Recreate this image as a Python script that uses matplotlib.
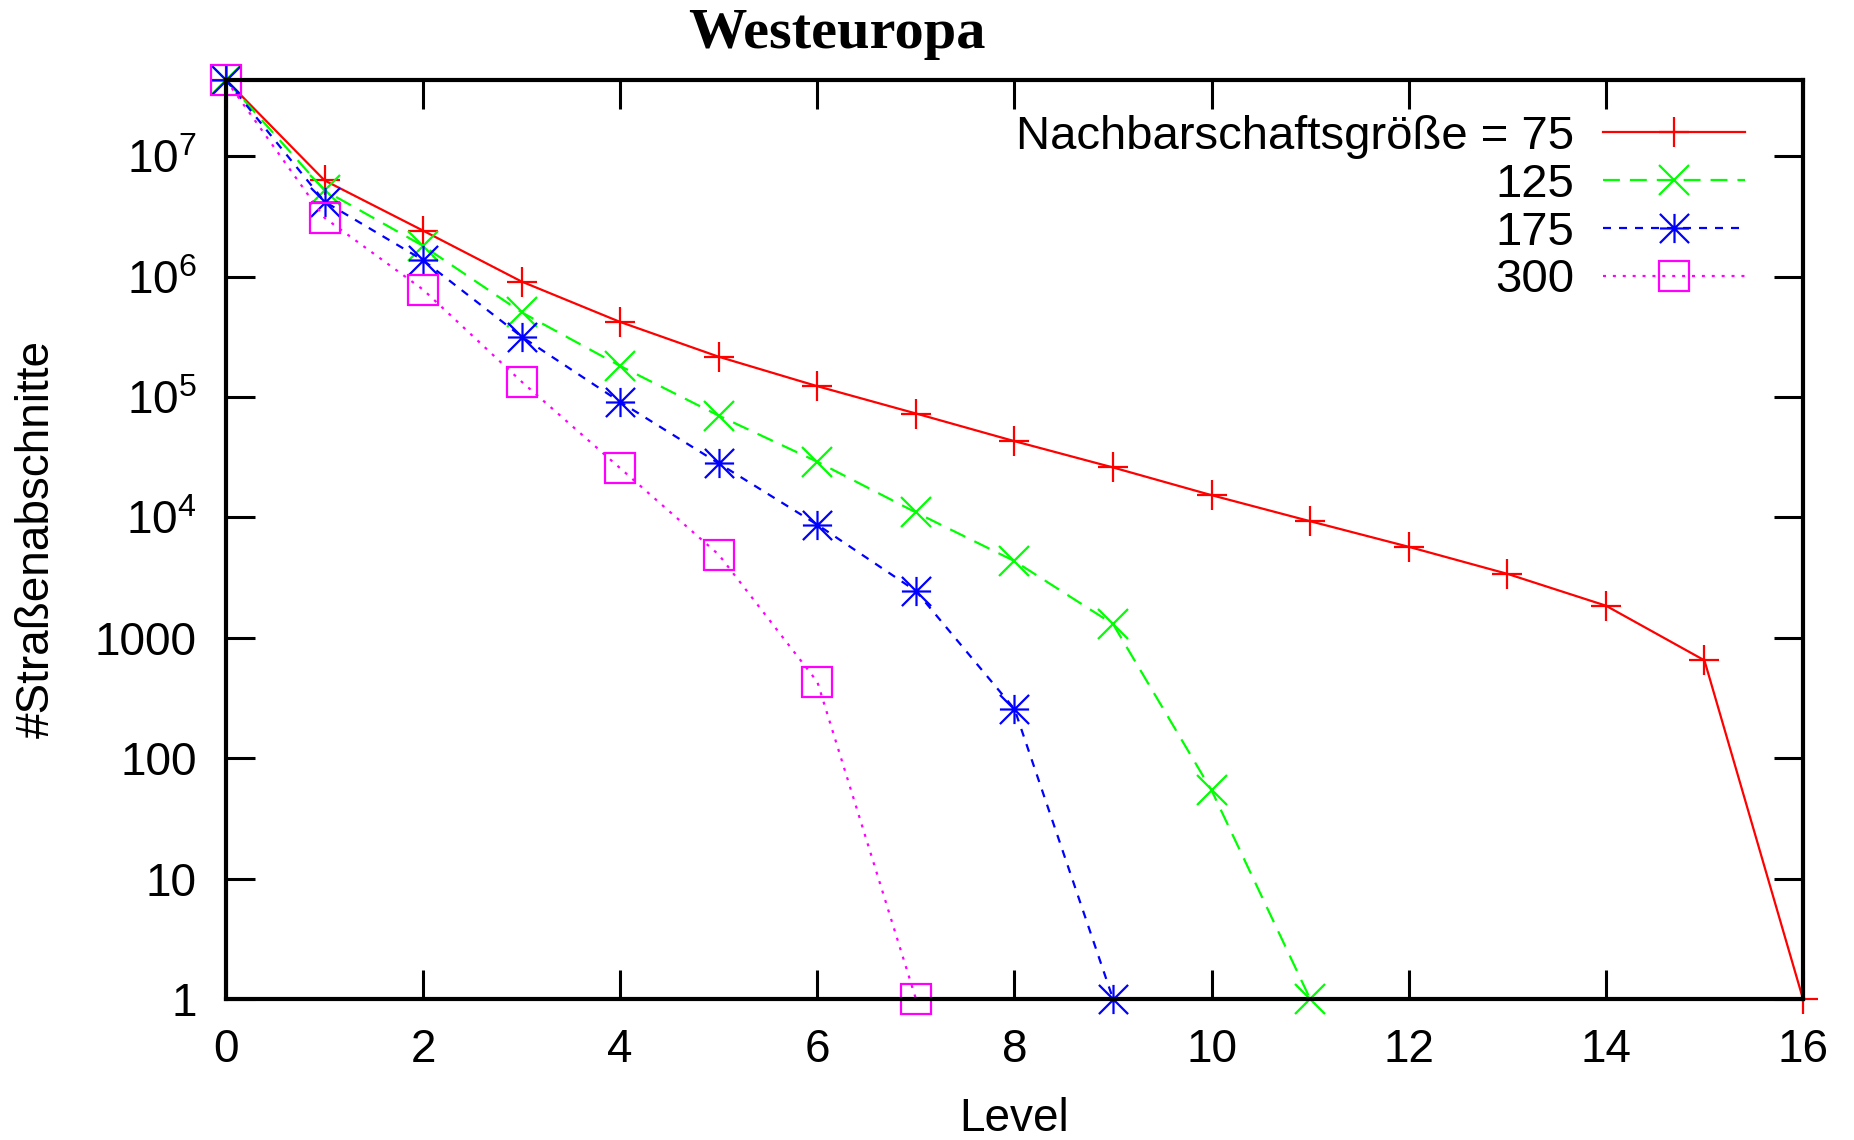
import numpy as np
import matplotlib
matplotlib.use("Agg")
import matplotlib.pyplot as plt
from matplotlib.path import Path
from matplotlib.ticker import FixedLocator, FuncFormatter, NullLocator

plt.rcParams['font.family'] = ['Liberation Sans', 'DejaVu Sans']
plt.rcParams['mathtext.fontset'] = 'custom'
plt.rcParams['mathtext.rm'] = 'Liberation Sans'
plt.rcParams['mathtext.it'] = 'Liberation Sans'

# daten: anzahl strassenabschnitte pro level
labels = ['Nachbarschaftsgröße = 75', '125', '175', '300']
red = [4.3e7, 6.3e6, 2.41e6, 9.1e5, 4.2e5, 2.16e5, 1.23e5, 7.3e4, 4.3e4,
       2.6e4, 1.53e4, 9.3e3, 5.7e3, 3.4e3, 1.85e3, 650, 1]
green = [4.3e7, 5.2e6, 1.8e6, 5.05e5, 1.81e5, 7.0e4, 2.9e4, 1.1e4, 4.34e3,
         1.3e3, 54, 1]
blue = [4.3e7, 4.2e6, 1.37e6, 3.17e5, 9.1e4, 2.81e4, 8.7e3, 2.45e3, 256, 1]
magenta = [4.3e7, 3.08e6, 7.8e5, 1.34e5, 2.56e4, 4.9e3, 430, 1]
xticks = list(range(0, 17, 2))
yticks = [1, 10, 100, 1000, 1e4, 1e5, 1e6, 1e7]

star = Path([[-1, 0], [1, 0], [0, -1], [0, 1], [-1, -1], [1, 1], [-1, 1], [1, -1]],
            [Path.MOVETO, Path.LINETO] * 4)

fig = plt.figure(figsize=(18.54, 11.4), dpi=100)
ax = fig.add_axes([226 / 1854, 1 - 999 / 1140, (1803 - 226) / 1854, (999 - 80) / 1140])

lw = 1.6
ms = 21
common = dict(lw=lw, ms=ms, mew=lw, mfc='none', clip_on=False)
ax.plot(range(len(red)), red, color='#ff0000', marker='+', ls='-', label=labels[0], **common)
ax.plot(range(len(green)), green, color='#00ff00', marker='x', dashes=(7.6, 4.5), label=labels[1], **common)
ax.plot(range(len(blue)), blue, color='#0000ff', marker=star, dashes=(3.6, 3.6), label=labels[2], **common)
ax.plot(range(len(magenta)), magenta, color='#ff00ff', marker='s', dashes=(1.35, 3.1), label=labels[3], **common)

ax.set_yscale('log')
ax.set_xlim(0, 16)
ax.set_ylim(1, 4.3e7)


def yfmt(v, pos):
    e = int(round(np.log10(v)))
    if e <= 3:
        return str(int(round(v)))
    return r'$\mathregular{10^{%d}}$' % e


ax.xaxis.set_major_locator(FixedLocator(xticks))
ax.yaxis.set_major_locator(FixedLocator(yticks))
ax.yaxis.set_major_formatter(FuncFormatter(yfmt))
ax.yaxis.set_minor_locator(NullLocator())
ax.tick_params(which='major', direction='in', length=21, width=2.2,
               top=True, right=True, labelsize=33, pad=21)
for s in ax.spines.values():
    s.set_linewidth(3)

ax.set_xlabel('Level', fontsize=33, labelpad=18)
ax.set_ylabel('#Straßenabschnitte', fontsize=33, labelpad=26)

fig.text(837 / 1854, 1 - 48 / 1140, 'Westeuropa', fontsize=42, fontweight='bold',
         family='Liberation Serif', ha='center', va='baseline')

leg = ax.legend(loc='upper right', bbox_to_anchor=(1745 / 1854, 1 - 115 / 1140),
                bbox_transform=fig.transFigure, frameon=False, markerfirst=False,
                fontsize=34, handlelength=3.0, handletextpad=0.61, labelspacing=0.08,
                borderpad=0, borderaxespad=0)

fig.savefig('out.png', dpi=100)
